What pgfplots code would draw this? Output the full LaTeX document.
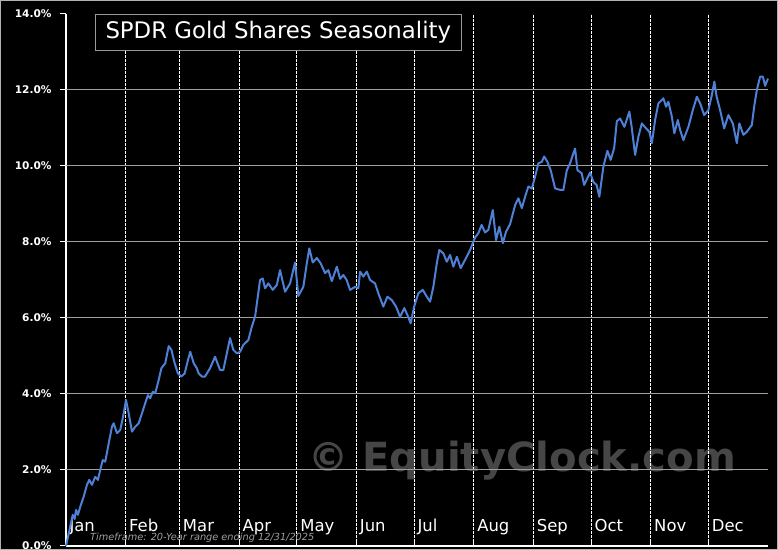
\documentclass[border=0pt]{standalone}
\usepackage{pgfplots}
\pgfplotsset{compat=1.18}
\usepackage{fontspec}
\setmainfont{DejaVu Sans}
\definecolor{linecol}{RGB}{78,128,214}
\definecolor{gridgray}{RGB}{160,160,160}
\definecolor{wm}{RGB}{70,70,70}
\pgfplotstableread{
d v
0.0 0.00
2.2 0.51
3.5 0.82
4.5 0.71
5.2 0.95
6.2 0.82
7.4 1.03
9.2 1.30
10.9 1.61
12.1 1.74
13.5 1.61
15.2 1.82
16.6 1.74
17.8 2.00
19.1 2.26
20.4 2.22
22.2 2.70
23.9 3.14
24.8 3.23
26.5 2.97
28.2 3.05
30.0 3.49
31.2 3.84
32.6 3.49
34.3 3.01
36.0 3.14
37.8 3.23
39.5 3.49
41.2 3.76
42.6 3.97
43.8 3.89
45.1 4.06
46.4 4.02
48.2 4.37
49.6 4.68
51.6 4.81
53.4 5.26
54.8 5.16
56.5 4.81
58.2 4.54
60.0 4.46
61.7 4.54
63.4 4.89
64.6 5.11
66.4 4.81
68.0 4.68
69.0 4.54
70.7 4.46
72.3 4.46
74.9 4.68
77.5 4.98
80.1 4.63
81.8 4.63
85.3 5.47
87.0 5.16
88.8 5.07
90.5 5.11
92.2 5.29
94.8 5.42
96.6 5.77
98.3 6.03
100.9 7.00
102.3 7.04
103.5 6.78
105.2 6.91
107.5 6.74
109.6 6.87
111.3 7.26
113.9 6.69
116.5 6.91
119.1 7.46
120.8 6.58
123.4 6.82
125.2 7.44
126.5 7.83
128.3 7.46
130.4 7.58
132.4 7.44
134.7 7.18
136.4 7.26
138.2 6.97
140.8 7.35
142.5 7.03
144.2 7.13
145.9 7.00
147.7 6.74
150.3 6.82
152.0 6.78
152.9 7.22
154.6 7.09
156.4 7.22
158.1 7.00
160.7 6.91
162.4 6.65
165.0 6.30
167.1 6.56
169.4 6.47
171.6 6.30
173.7 6.03
175.9 6.26
177.5 6.08
179.2 5.86
181.0 6.30
183.2 6.65
185.5 6.74
187.6 6.56
189.3 6.43
191.0 6.82
192.8 7.44
194.1 7.79
196.2 7.70
198.0 7.48
199.7 7.66
201.4 7.35
203.2 7.61
205.2 7.31
207.5 7.53
210.1 7.79
212.7 8.12
214.4 8.23
216.1 8.45
217.9 8.25
219.6 8.32
221.9 8.84
223.6 8.05
225.3 8.40
227.1 7.97
228.8 8.27
230.9 8.47
233.5 8.97
235.2 9.15
237.0 8.89
238.7 9.19
240.4 9.46
242.2 9.41
243.9 9.72
245.6 10.07
247.4 10.11
248.6 10.25
250.3 10.11
252.0 9.89
254.3 9.41
256.9 9.37
258.6 9.37
260.4 9.89
262.1 10.07
263.5 10.29
264.7 10.46
265.9 9.89
268.1 9.81
269.4 9.50
271.1 9.68
272.5 9.83
274.2 9.58
275.9 9.50
277.3 9.19
279.4 9.98
281.5 10.40
283.2 10.16
285.0 10.47
286.4 11.18
288.1 11.25
290.3 11.03
291.5 11.21
292.9 11.43
294.1 11.03
295.9 10.29
297.6 10.77
299.4 11.12
301.6 10.99
303.3 10.90
304.6 10.60
306.3 11.21
308.0 11.65
310.6 11.78
312.0 11.56
313.2 11.69
315.0 11.30
316.3 10.86
318.1 11.21
319.3 10.95
321.0 10.68
323.6 11.03
325.9 11.47
328.0 11.82
329.7 11.65
331.8 11.34
334.0 11.47
335.8 11.87
337.1 12.22
338.3 11.82
340.1 11.47
342.2 10.99
344.4 11.34
346.7 11.12
348.8 10.60
350.1 11.12
352.2 10.82
354.0 10.90
356.6 11.08
357.8 11.56
359.2 12.00
360.9 12.35
362.3 12.35
363.5 12.11
365.0 12.30
}\gld
\begin{document}
\begin{tikzpicture}[x=1bp,y=1bp]
\fill[black] (0,0) rectangle (778,550);
\node[anchor=base west, inner sep=0, text=wm, font=\fontsize{40.3}{40.3}\selectfont\bfseries] at (308,78) {© EquityClock.com};
\begin{axis}[
  at={(66bp,4bp)}, anchor=south west,
  scale only axis, width=702bp, height=532bp,
  xmin=0, xmax=365, ymin=0, ymax=14,
  axis x line*=bottom, axis y line*=left,
  axis line style={white, line width=1.2bp, -},
  xtick={0,31,59,90,120,151,181,212,243,273,304,334},
  xticklabels={Jan,Feb,Mar,Apr,May,Jun,Jul,Aug,Sep,Oct,Nov,Dec},
  xtick align=inside, ytick align=outside,
  major tick length=6bp,
  tick style={white, line width=1bp},
  xmajorgrids,
  x grid style={white, line width=0.8bp, dash pattern=on 2.5bp off 1.5bp},
  ytick={0,2,4,6,8,10,12,14},
  yticklabels={0.0\%,2.0\%,4.0\%,6.0\%,8.0\%,10.0\%,12.0\%,14.0\%},
  extra y ticks={2,4,6,8,10,12},
  extra y tick labels={},
  extra y tick style={grid=major},
  y grid style={gridgray, line width=1bp},
  xticklabel style={anchor=base west, yshift=14bp, text=white, font=\fontsize{16.5}{16.5}\selectfont},
  yticklabel style={text=white, xshift=-5bp, font=\fontsize{10.6}{10.6}\selectfont\bfseries},
  clip=false,
]
\addplot[linecol, line width=2bp, line join=round] table[x=d,y=v] {\gld};
\end{axis}
\node[anchor=base west, inner sep=0, text=gray!75, font=\fontsize{9.8}{9.8}\selectfont\itshape] at (90,9) {Timeframe: 20-Year range ending 12/31/2025};
\node[draw=gray!80, line width=1bp, fill=black, text=white, anchor=north west, minimum height=36bp, inner xsep=10bp, font=\fontsize{22.9}{22.9}\selectfont] at (95,536) {SPDR Gold Shares Seasonality};
\draw[gray!60, line width=1bp] (0.5,0.5) rectangle (777.5,549.5);
\pgfresetboundingbox
\path (0,0) rectangle (778,550);
\end{tikzpicture}
\end{document}
